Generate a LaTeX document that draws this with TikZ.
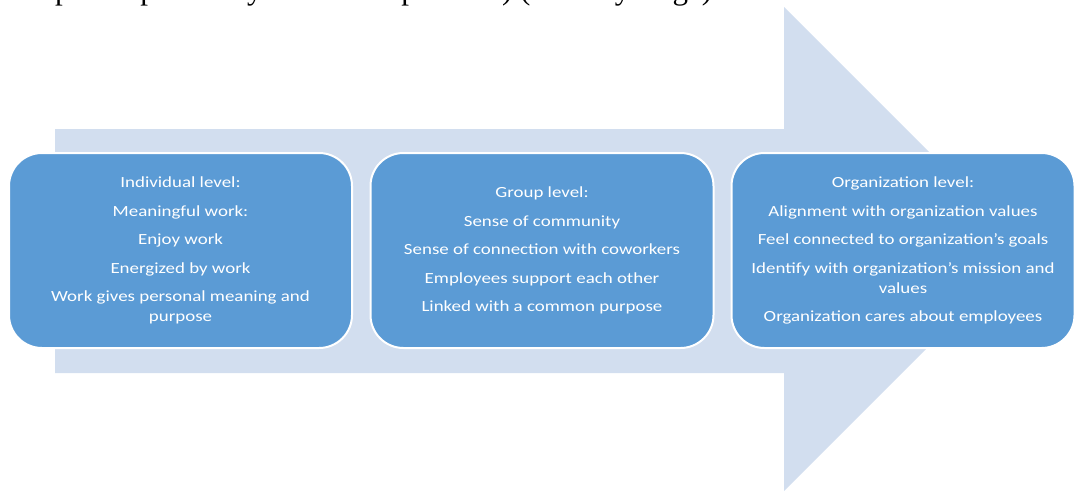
\documentclass[tikz,border=0pt]{standalone}
\usepackage{fontspec}
\setmainfont{Carlito}[FakeStretch=1.22]
\newfontfamily\captionserif{Liberation Serif}
\definecolor{arrowfill}{HTML}{D2DEEF}
\definecolor{boxfill}{HTML}{5B9BD5}
\begin{document}
\begin{tikzpicture}[x=1pt,y=-1pt,
  levelbox/.style={draw=white, line width=2pt, fill=boxfill, rounded corners=33pt,
    minimum width=343pt, minimum height=195pt, align=center, text=white,
    font=\fontsize{15.5}{20}\selectfont, inner sep=0pt}]
\useasboundingbox (0,0) rectangle (1078,490);
\clip (0,0) rectangle (1078,490);

% caption line above the figure, mostly outside the page
\node[anchor=base west, inner sep=0pt, font=\captionserif\fontsize{31}{31}\selectfont] (cap)
  at (55,-1) {\llap{Work }place spirituality relationship model) (Primary stage)};

% large background arrow
\fill[arrowfill] (55,129) -- (784,129) -- (784,7) -- (1026,249)
  -- (784,491) -- (784,373) -- (55,373) -- cycle;

% the three levels
\node[levelbox] (ind) at (180.5,250.5) {Individual level:\\[8.5pt]
  Meaningful work:\\[8.5pt]
  Enjoy work\\[8.5pt]
  Energized by work\\[8.5pt]
  Work gives personal meaning and\\
  purpose};

\node[levelbox] (grp) at (542,250.5) {Group level:\\[8.5pt]
  Sense of community\\[8.5pt]
  Sense of connection with coworkers\\[8.5pt]
  Employees support each other\\[8.5pt]
  Linked with a common purpose};

\node[levelbox] (org) at (903,250.5) {Organization level:\\[8.5pt]
  Alignment with organization values\\[8.5pt]
  Feel connected to organization’s goals\\[8.5pt]
  Identify with organization’s mission and\\
  values\\[8.5pt]
  Organization cares about employees};
\end{tikzpicture}
\end{document}
